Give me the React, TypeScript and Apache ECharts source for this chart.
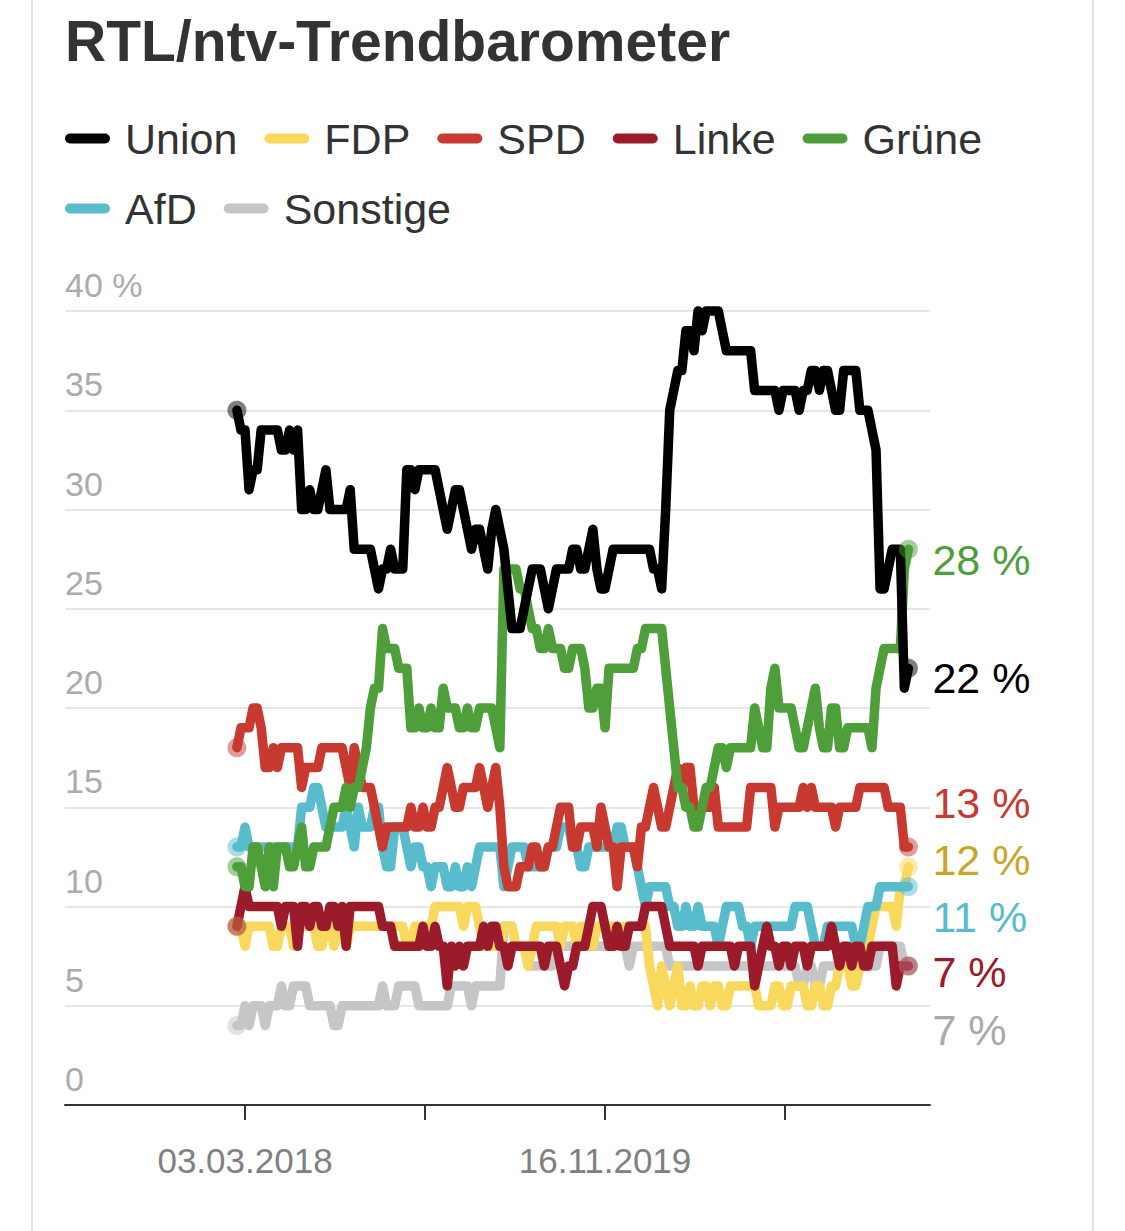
import React, { useEffect, useRef } from 'react';
import * as echarts from 'echarts';

const FONT = '"Liberation Sans", Arial, Helvetica, sans-serif';
const DAY = 864e5;
const WEEK = 7 * DAY;
const FIRST_POLL = Date.UTC(2018, 1, 17);

const unionValues = [
  35, 34, 34, 31, 32, 32, 34, 34, 34, 34,
  34, 33, 33, 34, 33, 34, 30, 30, 31, 30,
  30, 31, 32, 30, 30, 30, 30, 30, 31, 28,
  28, 28, 28, 28, 27, 26, 27, 27, 28, 27,
  27, 27, 32, 32, 31, 32, 32, 32, 32, 32,
  31, 30, 29, 30, 31, 31, 30, 29, 28, 29,
  29, 28, 27, 29, 30, 29, 28, 26, 24, 24,
  24, 25, 26, 27, 27, 27, 26, 25, 26, 27,
  27, 27, 27, 28, 28, 27, 27, 28, 29, 27,
  26, 26, 27, 28, 28, 28, 28, 28, 28, 28,
  28, 28, 28, 27, 27, 26, 30, 35, 36, 37,
  37, 39, 39, 38, 40, 39, 40, 40, 40, 40,
  39, 38, 38, 38, 38, 38, 38, 38, 36, 36,
  36, 36, 36, 36, 35, 36, 36, 36, 36, 35,
  36, 36, 37, 37, 36, 37, 37, 36, 35, 35,
  37, 37, 37, 37, 35, 35, 35, 34, 33, 26,
  26, 27, 28, 28, 28, 21, 22,
];

const grueneValues = [
  12, 12, 11, 11, 13, 13, 12, 11, 13, 11,
  13, 13, 13, 12, 12, 13, 14, 12, 12, 13,
  13, 13, 13, 14, 15, 15, 15, 16, 15, 16,
  16, 17, 18, 20, 21, 21, 24, 23, 23, 23,
  22, 22, 22, 19, 19, 20, 19, 19, 20, 19,
  19, 21, 20, 20, 20, 19, 19, 20, 19, 19,
  20, 20, 20, 20, 19, 18, 27, 27, 27, 27,
  26, 26, 25, 24, 24, 23, 23, 24, 23, 23,
  23, 22, 22, 23, 23, 23, 22, 20, 20, 21,
  21, 19, 22, 22, 22, 22, 22, 22, 22, 23,
  23, 24, 24, 24, 24, 24, 22, 20, 18, 16,
  16, 15, 15, 14, 14, 15, 16, 16, 17, 18,
  18, 17, 18, 18, 18, 18, 18, 18, 20, 19,
  18, 18, 21, 22, 20, 20, 20, 20, 19, 18,
  18, 19, 20, 21, 19, 18, 18, 20, 20, 18,
  18, 19, 19, 19, 19, 19, 19, 18, 21, 22,
  23, 23, 23, 23, 23, 27, 28,
];

const spdValues = [
  18, 19, 19, 19, 20, 20, 19, 17, 17, 18,
  17, 18, 18, 18, 18, 18, 16, 17, 17, 17,
  17, 18, 18, 18, 18, 18, 18, 17, 16, 18,
  17, 16, 16, 16, 15, 14, 13, 14, 14, 14,
  14, 14, 14, 15, 14, 14, 15, 14, 14, 15,
  15, 16, 17, 16, 15, 15, 16, 16, 16, 16,
  17, 16, 15, 16, 17, 15, 12, 11, 11, 11,
  12, 12, 12, 13, 13, 12, 12, 13, 13, 14,
  15, 15, 15, 13, 13, 14, 14, 14, 14, 13,
  15, 14, 13, 13, 11, 13, 13, 13, 13, 12,
  14, 14, 15, 16, 15, 14, 14, 15, 16, 17,
  16, 17, 17, 15, 15, 15, 15, 15, 16, 14,
  14, 14, 14, 14, 14, 14, 14, 16, 16, 16,
  16, 16, 16, 14, 15, 15, 15, 15, 15, 15,
  16, 15, 16, 15, 15, 15, 15, 15, 14, 15,
  15, 15, 15, 15, 16, 16, 16, 16, 16, 16,
  16, 15, 15, 15, 15, 13, 13,
];

const afdValues = [
  13, 13, 14, 13, 13, 13, 13, 13, 13, 13,
  13, 13, 13, 13, 13, 13, 15, 15, 15, 16,
  16, 15, 14, 14, 14, 14, 14, 15, 14, 13,
  15, 14, 14, 14, 15, 15, 13, 12, 12, 14,
  14, 14, 13, 12, 13, 13, 12, 12, 11, 12,
  12, 12, 11, 11, 12, 11, 11, 12, 11, 12,
  13, 13, 13, 13, 13, 13, 11, 12, 13, 13,
  13, 13, 12, 12, 12, 12, 12, 13, 13, 13,
  14, 14, 14, 13, 13, 12, 12, 13, 13, 13,
  13, 13, 13, 13, 14, 14, 13, 13, 13, 12,
  11, 10, 11, 11, 11, 11, 11, 10, 10, 9,
  9, 10, 9, 9, 10, 9, 9, 9, 9, 8,
  9, 10, 10, 10, 10, 9, 9, 8, 9, 9,
  9, 9, 9, 9, 9, 9, 9, 9, 10, 10,
  10, 10, 9, 8, 8, 8, 9, 9, 9, 9,
  9, 9, 9, 8, 8, 9, 10, 10, 10, 11,
  11, 11, 11, 11, 11, 11, 11,
];

const fdpValues = [
  9, 9, 8, 9, 9, 9, 9, 9, 9, 8,
  8, 9, 9, 9, 8, 9, 9, 9, 9, 9,
  8, 8, 9, 9, 8, 9, 9, 8, 9, 9,
  9, 9, 9, 9, 9, 9, 9, 9, 9, 9,
  9, 9, 8, 8, 9, 9, 9, 9, 9, 10,
  10, 10, 10, 10, 10, 10, 9, 10, 10, 10,
  9, 8, 8, 8, 8, 8, 9, 9, 9, 8,
  8, 8, 7, 8, 9, 9, 9, 9, 9, 9,
  8, 9, 9, 9, 8, 9, 9, 9, 8, 9,
  9, 9, 9, 9, 9, 8, 9, 9, 9, 9,
  9, 9, 7, 6, 5, 7, 6, 5, 6, 7,
  5, 5, 6, 5, 5, 6, 6, 5, 6, 6,
  5, 5, 6, 6, 6, 6, 6, 6, 6, 5,
  5, 5, 5, 6, 6, 5, 5, 6, 6, 6,
  6, 5, 5, 6, 6, 5, 5, 6, 6, 7,
  8, 7, 6, 6, 7, 7, 8, 9, 10, 10,
  10, 10, 10, 9, 11, 11, 12,
];

const linkeValues = [
  9, 10, 11, 10, 10, 10, 10, 10, 10, 10,
  10, 9, 10, 10, 10, 8, 10, 10, 9, 10,
  10, 9, 9, 10, 10, 9, 10, 8, 10, 10,
  10, 10, 10, 10, 10, 10, 9, 9, 9, 8,
  8, 8, 8, 8, 8, 8, 9, 8, 8, 9,
  8, 8, 6, 8, 7, 8, 7, 8, 8, 8,
  8, 9, 8, 9, 9, 8, 8, 7, 8, 8,
  8, 8, 8, 8, 8, 8, 7, 8, 8, 8,
  7, 6, 7, 7, 8, 8, 8, 9, 10, 10,
  10, 9, 8, 8, 9, 8, 8, 9, 9, 9,
  9, 10, 10, 10, 10, 10, 9, 8, 8, 8,
  8, 8, 8, 8, 7, 8, 8, 8, 8, 8,
  8, 8, 8, 7, 8, 8, 8, 8, 6, 7,
  8, 9, 8, 8, 7, 8, 8, 7, 8, 8,
  8, 7, 8, 8, 8, 8, 8, 9, 8, 7,
  8, 8, 7, 8, 8, 7, 7, 8, 8, 8,
  8, 8, 8, 6, 7, 7, 7,
];

const sonstigeValues = [
  4, 4, 5, 4, 5, 5, 5, 4, 5, 5,
  5, 6, 5, 5, 6, 6, 6, 6, 5, 5,
  5, 5, 5, 5, 4, 4, 5, 5, 5, 5,
  5, 5, 5, 5, 5, 5, 6, 5, 5, 5,
  6, 6, 6, 6, 6, 5, 5, 5, 5, 5,
  5, 5, 5, 6, 6, 6, 6, 6, 5, 6,
  6, 6, 6, 6, 6, 6, 9, 9, 9, 8,
  8, 8, 7, 7, 7, 7, 7, 7, 7, 8,
  8, 8, 8, 8, 8, 8, 8, 8, 8, 8,
  8, 8, 8, 8, 8, 8, 8, 7, 8, 8,
  8, 8, 8, 8, 8, 8, 8, 7, 7, 7,
  7, 7, 7, 7, 7, 7, 7, 7, 7, 7,
  7, 7, 7, 7, 7, 7, 7, 7, 7, 7,
  7, 7, 7, 7, 7, 7, 7, 7, 7, 6,
  6, 7, 7, 6, 6, 7, 7, 7, 7, 7,
  7, 7, 7, 7, 7, 7, 7, 7, 7, 8,
  8, 8, 8, 8, 8, 7, 7,
];

const legendOrder = ['Union', 'FDP', 'SPD', 'Linke', 'Grüne', 'AfD', 'Sonstige'];

const tickDates = [
  Date.UTC(2018, 2, 3),
  Date.UTC(2019, 0, 8, 12),
  Date.UTC(2019, 10, 16),
  Date.UTC(2020, 8, 22, 12),
];
const labelDates = [Date.UTC(2018, 2, 3), Date.UTC(2019, 10, 16)];

// drawing order: first drawn at the bottom
const seriesDefs = [
  { name: 'Sonstige', values: sonstigeValues, color: '#c6c6c8', labelColor: '#a9a9a9', dy: 64 },
  { name: 'FDP', values: fdpValues, color: '#f9d85e', labelColor: '#c9a52a', dy: -7 },
  { name: 'AfD', values: afdValues, color: '#58bccd', labelColor: '#58bccd', dy: 30 },
  { name: 'Linke', values: linkeValues, color: '#9b1b2a', labelColor: '#9b1b2a', dy: 6 },
  { name: 'SPD', values: spdValues, color: '#c83a30', labelColor: '#c83a30', dy: -44 },
  { name: 'Grüne', values: grueneValues, color: '#4e9e3a', labelColor: '#4e9e3a', dy: 11 },
  { name: 'Union', values: unionValues, color: '#000000', labelColor: '#000000', dy: 10 },
];

const pad = (n: number) => (n < 10 ? '0' + n : String(n));
const fmtDate = (t: number) => {
  const d = new Date(t);
  return `${pad(d.getUTCDate())}.${pad(d.getUTCMonth() + 1)}.${d.getUTCFullYear()}`;
};

const PILL = 'path://M5,0 L40,0 A5,5,0,0,1,40,10 L5,10 A5,5,0,0,1,5,0 Z';

export default function App() {
  const ref = useRef<HTMLDivElement>(null);

  useEffect(() => {
    if (!ref.current) return;
    const chart = echarts.init(ref.current, undefined, { renderer: 'svg' });
    const ref0303 = Date.UTC(2018, 2, 3);
    const xMin = ref0303 - 311.5 * DAY;
    const xMax = ref0303 + 1185.4 * DAY;

    const series = seriesDefs.map((s) => {
      const last = s.values.length - 1;
      return {
        name: s.name,
        type: 'line',
        data: s.values.map((v, i) => [FIRST_POLL + i * WEEK, v]),
        clip: false,
        silent: true,
        symbol: 'circle',
        showSymbol: true,
        showAllSymbol: true,
        symbolSize: (_v: any, p: any) => (p.dataIndex === 0 || p.dataIndex === last ? 19 : 0),
        itemStyle: { color: s.color, opacity: 0.5 },
        lineStyle: { color: s.color, width: 9.5, cap: 'round', join: 'round' },
        emphasis: { disabled: true },
        endLabel: {
          show: true,
          formatter: (p: any) => `${p.value[1]} %`,
          color: s.labelColor,
          fontSize: 43,
          fontFamily: FONT,
          distance: 24,
          offset: [0, s.dy],
        },
      };
    });

    chart.setOption({
      animation: false,
      textStyle: { fontFamily: FONT },
      title: {
        text: 'RTL/ntv-Trendbarometer',
        left: 65,
        top: 12,
        padding: 0,
        textStyle: { fontSize: 57, fontWeight: 'bold', color: '#333333', fontFamily: FONT },
      },
      legend: {
        data: legendOrder,
        left: 60,
        top: 112,
        width: 1000,
        padding: 5,
        icon: PILL,
        itemWidth: 45,
        itemHeight: 10,
        itemGap: 27,
        selectedMode: false,
        itemStyle: { opacity: 1, borderWidth: 0 },
        textStyle: { fontSize: 43, color: '#333333', lineHeight: 40, padding: [0, 0, 0, 10], fontFamily: FONT },
      },
      graphic: [
        { type: 'line', shape: { x1: 32, y1: 0, x2: 32, y2: 1231 }, style: { stroke: '#e2e2e2', lineWidth: 2 } },
        { type: 'line', shape: { x1: 1093, y1: 0, x2: 1093, y2: 1231 }, style: { stroke: '#e2e2e2', lineWidth: 2 } },
      ],
      grid: { left: 65, right: 195, top: 311, bottom: 126, containLabel: false },
      xAxis: {
        type: 'value',
        min: xMin,
        max: xMax,
        axisLine: { lineStyle: { color: '#333333', width: 2 } },
        axisTick: { customValues: tickDates, length: 15, lineStyle: { color: '#333333', width: 2 } },
        axisLabel: {
          customValues: labelDates,
          formatter: (v: number) => fmtDate(v),
          color: '#808080',
          fontSize: 35,
          margin: 38,
          fontFamily: FONT,
        },
        splitLine: { show: false },
      },
      yAxis: {
        type: 'value',
        min: 0,
        max: 40,
        interval: 5,
        axisLine: { show: false },
        axisTick: { show: false },
        splitLine: { lineStyle: { color: '#e6e6e6', width: 2 } },
        axisLabel: {
          inside: true,
          margin: 0,
          color: '#ababab',
          fontSize: 34,
          lineHeight: 34,
          verticalAlign: 'bottom',
          padding: [0, 0, 9, 0],
          fontFamily: FONT,
          formatter: (v: number) => (v === 40 ? '40 %' : String(v)),
        },
      },
      series,
    });
    return () => chart.dispose();
  }, []);

  return (
    <div
      ref={ref}
      style={{ position: 'absolute', left: 0, top: 0, width: 1125, height: 1231, background: '#ffffff' }}
    />
  );
}
